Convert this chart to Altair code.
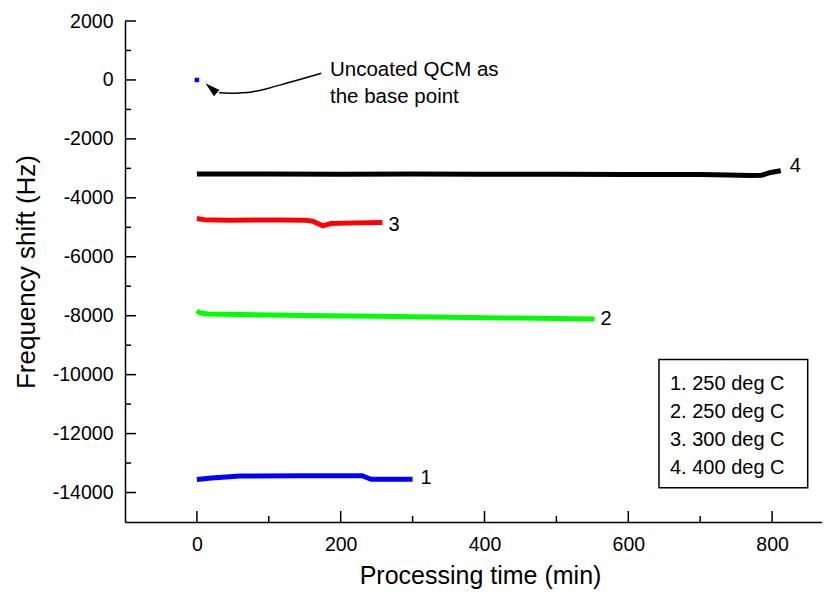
import altair as alt
import pandas as pd

# ---- data ----
series_ids = ["1", "2", "3", "4"]
series_colors = ["#0000ff", "#00ff00", "#ff0000", "#000000"]

s1_t = [0, 20, 60, 150, 230, 242, 300]
s1_v = [-13560, -13510, -13440, -13430, -13430, -13550, -13550]

s2_t = [0, 4, 15, 60, 150, 250, 350, 450, 553]
s2_v = [-7830, -7900, -7940, -7960, -7990, -8020, -8050, -8080, -8110]

s3_t = [0, 10, 45, 115, 152, 162, 175, 186, 220, 258]
s3_v = [-4700, -4740, -4760, -4750, -4760, -4800, -4950, -4875, -4850, -4840]

s4_t = [0, 100, 200, 300, 400, 500, 600, 700, 740, 770, 785, 798, 812]
s4_v = [-3190, -3195, -3200, -3195, -3200, -3200, -3205, -3210, -3225, -3240, -3235, -3140, -3080]

base_t = [0]
base_v = [0]

legend_labels = ["1. 250 deg C", "2. 250 deg C", "3. 300 deg C", "4. 400 deg C"]
annotation_lines = ["Uncoated QCM as", "the base point"]

# arrow path (data coordinates) pointing to the base point
arrow_t = [173, 143, 124, 101, 78, 59, 45, 31]
arrow_v = [227, 17, -112, -271, -397, -441, -451, -434]
arrowhead_t = [19.7]
arrowhead_v = [-281]

x_major = [0, 200, 400, 600, 800]
x_minor = [100, 300, 500, 700]
y_major = list(range(-14000, 2001, 2000))
y_minor = list(range(-13000, 2000, 2000))

# ---- layout ----
W, H = 697, 501
FONT = "Liberation Sans"
xs = alt.Scale(domain=[-100, 869.4], nice=False, zero=False)
ys = alt.Scale(domain=[-15000, 2000], nice=False, zero=False)

rows = []
for sid, ts, vs in zip(series_ids, [s1_t, s2_t, s3_t, s4_t], [s1_v, s2_v, s3_v, s4_v]):
    for t, v in zip(ts, vs):
        rows.append({"s": sid, "t": t, "v": v})
df = pd.DataFrame(rows)

x_axis = alt.Axis(
    values=x_major, ticks=False, tickSize=0, grid=False,
    labelPadding=13, labelFontSize=19.5, labelFont=FONT, labelColor="black",
    labelExpr="'' + datum.value",
    domainColor="black", domainWidth=1.5,
    title="Processing time (min)", titleFont=FONT, titleFontSize=25,
    titleFontWeight="normal", titleColor="black",
    titleX=355, titleY=61, titleBaseline="alphabetic", titleAlign="center",
)
y_axis = alt.Axis(
    values=y_major, ticks=False, tickSize=0, grid=False,
    labelPadding=12, labelFontSize=19.5, labelFont=FONT, labelColor="black",
    labelExpr="'' + datum.value",
    domainColor="black", domainWidth=1.5,
    title="Frequency shift (Hz)", titleFont=FONT, titleFontSize=26,
    titleFontWeight="normal", titleColor="black",
    titleX=-99, titleY=H / 2, titleAngle=270, titleBaseline="middle", titleAlign="center",
)


def X(field="t"):
    return alt.X(f"{field}:Q", scale=xs, axis=x_axis)


def Y(field="v"):
    return alt.Y(f"{field}:Q", scale=ys, axis=y_axis)


lines = alt.Chart(df).mark_line(strokeWidth=5, strokeJoin="round").encode(
    x=X(), y=Y(),
    color=alt.Color("s:N", scale=alt.Scale(domain=series_ids, range=series_colors), legend=None),
    detail="s:N",
)

layers = [lines]

# base point
base_df = pd.DataFrame({"t": base_t, "v": base_v})
layers.append(alt.Chart(base_df).mark_square(size=20, color="#0000ff", opacity=1).encode(x=X(), y=Y()))

# end labels
label_offsets = {"1": (8, -1), "2": (6, 0), "3": (6, 2), "4": (9, -5)}
for sid, ts, vs in zip(series_ids, [s1_t, s2_t, s3_t, s4_t], [s1_v, s2_v, s3_v, s4_v]):
    dx, dy = label_offsets[sid]
    ld = pd.DataFrame({"t": [ts[-1]], "v": [vs[-1]], "lab": [sid]})
    layers.append(alt.Chart(ld).mark_text(
        align="left", baseline="middle", dx=dx, dy=dy, fontSize=20, font=FONT, color="black"
    ).encode(x=X(), y=Y(), text="lab:N"))


# inward ticks
def xticks(vals, length):
    return alt.Chart(pd.DataFrame({"t": vals})).mark_rule(color="black", strokeWidth=1.5).encode(
        x=X(), y=alt.value(H), y2=alt.value(H - length))


def yticks(vals, length):
    return alt.Chart(pd.DataFrame({"v": vals})).mark_rule(color="black", strokeWidth=1.5).encode(
        y=Y(), x=alt.value(0), x2=alt.value(length))


layers += [xticks(x_major, 11), xticks(x_minor, 6), yticks(y_major, 11), yticks(y_minor, 6)]

# annotation text and arrow
dummy = alt.Data(values=[{}])
layers.append(alt.Chart(dummy).mark_text(
    text=annotation_lines, align="left", baseline="alphabetic", lineHeight=27,
    fontSize=20.5, font=FONT, color="black"
).encode(x=alt.value(205), y=alt.value(55)))

arrow_df = pd.DataFrame({"t": arrow_t, "v": arrow_v, "o": list(range(len(arrow_t)))})
layers.append(alt.Chart(arrow_df).mark_line(color="black", strokeWidth=1.5, interpolate="cardinal").encode(
    x=X(), y=Y(), order="o:Q"))

head_df = pd.DataFrame({"t": arrowhead_t, "v": arrowhead_v})
layers.append(alt.Chart(head_df).mark_point(
    shape="M0,-1L0.55,1L-0.55,1Z", filled=True, color="black", opacity=1, size=225, angle=311.5
).encode(x=X(), y=Y()))

# legend box
layers.append(alt.Chart(dummy).mark_rect(fill="white", stroke="black", strokeWidth=1.5).encode(
    x=alt.value(534), x2=alt.value(682.7), y=alt.value(338.5), y2=alt.value(466.7)))
for i, lab in enumerate(legend_labels):
    layers.append(alt.Chart(dummy).mark_text(
        text=lab, align="left", baseline="alphabetic", fontSize=20, font=FONT, color="black"
    ).encode(x=alt.value(545), y=alt.value(369 + 28 * i)))

chart = alt.layer(*layers).properties(
    width=W, height=H,
    padding={"left": 117, "top": 13, "right": 0, "bottom": 67},
    autosize=alt.AutoSizeParams(type="none"),
    background="white",
).configure_view(stroke=None)

chart.save("out.html", embed_options={"renderer": "svg", "actions": False})
